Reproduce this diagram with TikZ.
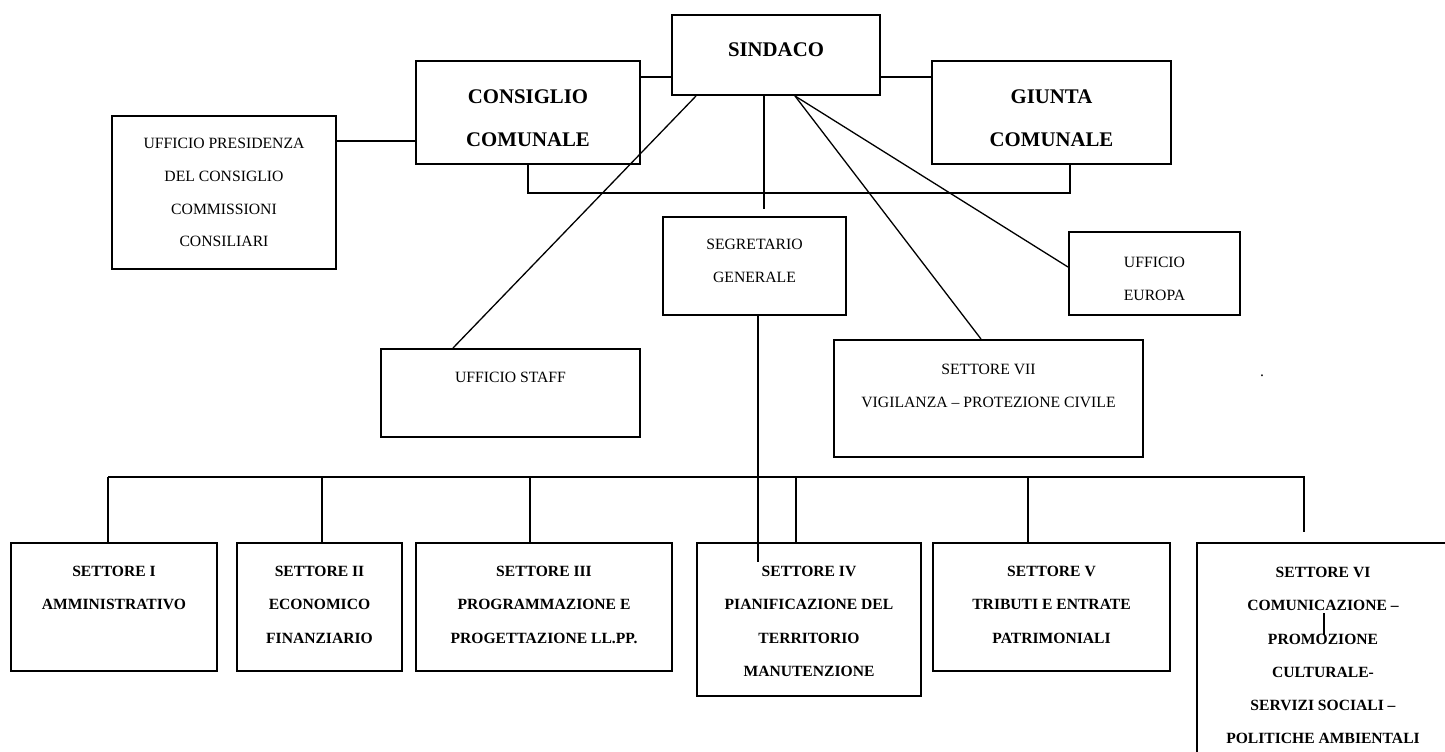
\documentclass[tikz,border=0pt]{standalone}
\usepackage{fontspec}
\setmainfont{Liberation Serif}
\usetikzlibrary{calc,fit}
\tikzset{
  box/.style={draw, line width=1pt, inner sep=0pt},
  conn/.style={line width=0.65pt},
  bigtxt/.style={anchor=north, inner sep=0pt, align=center, font=\fontsize{10.4}{21.5}\selectfont\bfseries},
  smalltxt/.style={anchor=north, inner sep=0pt, align=center, font=\fontsize{7.85}{16.3}\selectfont},
  settxt/.style={anchor=north, inner sep=0pt, align=center, font=\fontsize{7.8}{16.6}\selectfont\bfseries},
}
\begin{document}
\begin{tikzpicture}[x=0.5pt,y=-0.5pt]
\useasboundingbox (0,0) rectangle (1445,751);
\clip (0,0) rectangle (1445,751);
% organi di governo
\node[box, fit={(672,15) (880,95)}] (sindaco) {};
\node[bigtxt] (sindacot) at ($(sindaco.north)+(0,28)$) {SINDACO};
\node[box, fit={(416,61) (640,164)}] (consiglio) {};
\node[bigtxt] (consigliot) at ($(consiglio.north)+(0,29)$) {CONSIGLIO\\COMUNALE};
\node[box, fit={(932,61) (1171,164)}] (giunta) {};
\node[bigtxt] (giuntat) at ($(giunta.north)+(0,29)$) {GIUNTA\\COMUNALE};
\node[box, fit={(112,116) (336,269)}] (presidenza) {};
\node[smalltxt] (presidenzat) at ($(presidenza.north)+(0,23)$) {UFFICIO PRESIDENZA\\DEL CONSIGLIO\\COMMISSIONI\\CONSILIARI};
% uffici
\node[box, fit={(663,217) (846,315)}] (segretario) {};
\node[smalltxt] (segretariot) at ($(segretario.north)+(0,23)$) {SEGRETARIO\\GENERALE};
\node[box, fit={(1069,232) (1240,315)}] (europa) {};
\node[smalltxt] (europat) at ($(europa.north)+(0,26)$) {UFFICIO\\EUROPA};
\node[box, fit={(381,349) (640,437)}] (staff) {};
\node[smalltxt] (stafft) at ($(staff.north)+(0,24)$) {UFFICIO STAFF};
\node[box, fit={(834,340) (1143,457)}] (settore7) {};
\node[smalltxt] (settore7t) at ($(settore7.north)+(0,25)$) {SETTORE VII\\VIGILANZA – PROTEZIONE CIVILE};
\node[smalltxt, anchor=center] (punto) at (1262,376) {.};
% settori
\node[box, fit={(11,543) (217,671)}] (settore1) {};
\node[settxt] (settore1t) at ($(settore1.north)+(0,24)$) {SETTORE I\\AMMINISTRATIVO};
\node[box, fit={(237,543) (402,671)}] (settore2) {};
\node[settxt] (settore2t) at ($(settore2.north)+(0,24)$) {SETTORE II\\ECONOMICO\\FINANZIARIO};
\node[box, fit={(416,543) (672,671)}] (settore3) {};
\node[settxt] (settore3t) at ($(settore3.north)+(0,24)$) {SETTORE III\\PROGRAMMAZIONE E\\PROGETTAZIONE LL.PP.};
\node[box, fit={(697,543) (921,696)}] (settore4) {};
\node[settxt] (settore4t) at ($(settore4.north)+(0,24)$) {SETTORE IV\\PIANIFICAZIONE DEL\\TERRITORIO\\MANUTENZIONE};
\node[box, fit={(933,543) (1170,671)}] (settore5) {};
\node[settxt] (settore5t) at ($(settore5.north)+(0,24)$) {SETTORE V\\TRIBUTI E ENTRATE\\PATRIMONIALI};
\node[box, fit={(1197,543) (1449,800)}] (settore6) {};
\node[settxt] (settore6t) at ($(settore6.north)+(0,25)$) {SETTORE VI\\COMUNICAZIONE –\\PROMOZIONE\\CULTURALE-\\SERVIZI SOCIALI –\\POLITICHE AMBIENTALI};
% collegamenti in alto
\coordinate (liv) at (0,77);
\draw[conn] (consiglio.east |- liv) -- (sindaco.west |- liv);
\draw[conn] (sindaco.east |- liv) -- (giunta.west |- liv);
\coordinate (pres) at (0,141);
\draw[conn] (presidenza.east |- pres) -- (consiglio.west |- pres);
\coordinate (giro) at (1070,193);
\draw[conn] (consiglio.south) |- (giro) -- (giunta.south -| giro);
\draw[conn] ($(sindaco.south west)+(25,0)$) -- ($(staff.north west)+(73,0)$);
\coordinate (sg) at (764,209);
\draw[conn] (sindaco.south -| sg) -- (sg);
\coordinate (ventaglio) at ($(sindaco.south west)+(124,0)$);
\draw[conn] (ventaglio) -- ($(settore7.north west)+(148,0)$);
\draw[conn] (ventaglio) -- ($(europa.north west)+(0,36)$);
% linea dei settori
\coordinate (sgbase) at (758,562);
\draw[conn] (segretario.south -| sgbase) -- (sgbase);
\coordinate (busl) at (108,477);
\coordinate (busr) at (1304,477);
\coordinate (fine6) at (1304,532);
\draw[conn] (busl) -- (busr) -- (fine6);
\draw[conn] (busl) -- (settore1.north -| busl);
\foreach \s/\x in {settore2/322, settore3/530, settore4/796, settore5/1028} {
  \coordinate (d\s) at (\x,477);
  \draw[conn] (d\s) -- (\s.north -| d\s);
}
\draw[line width=1.2pt] (722,477) -- (757,477);
\draw[conn] (1324,613) -- (1324,635);
\end{tikzpicture}
\end{document}
